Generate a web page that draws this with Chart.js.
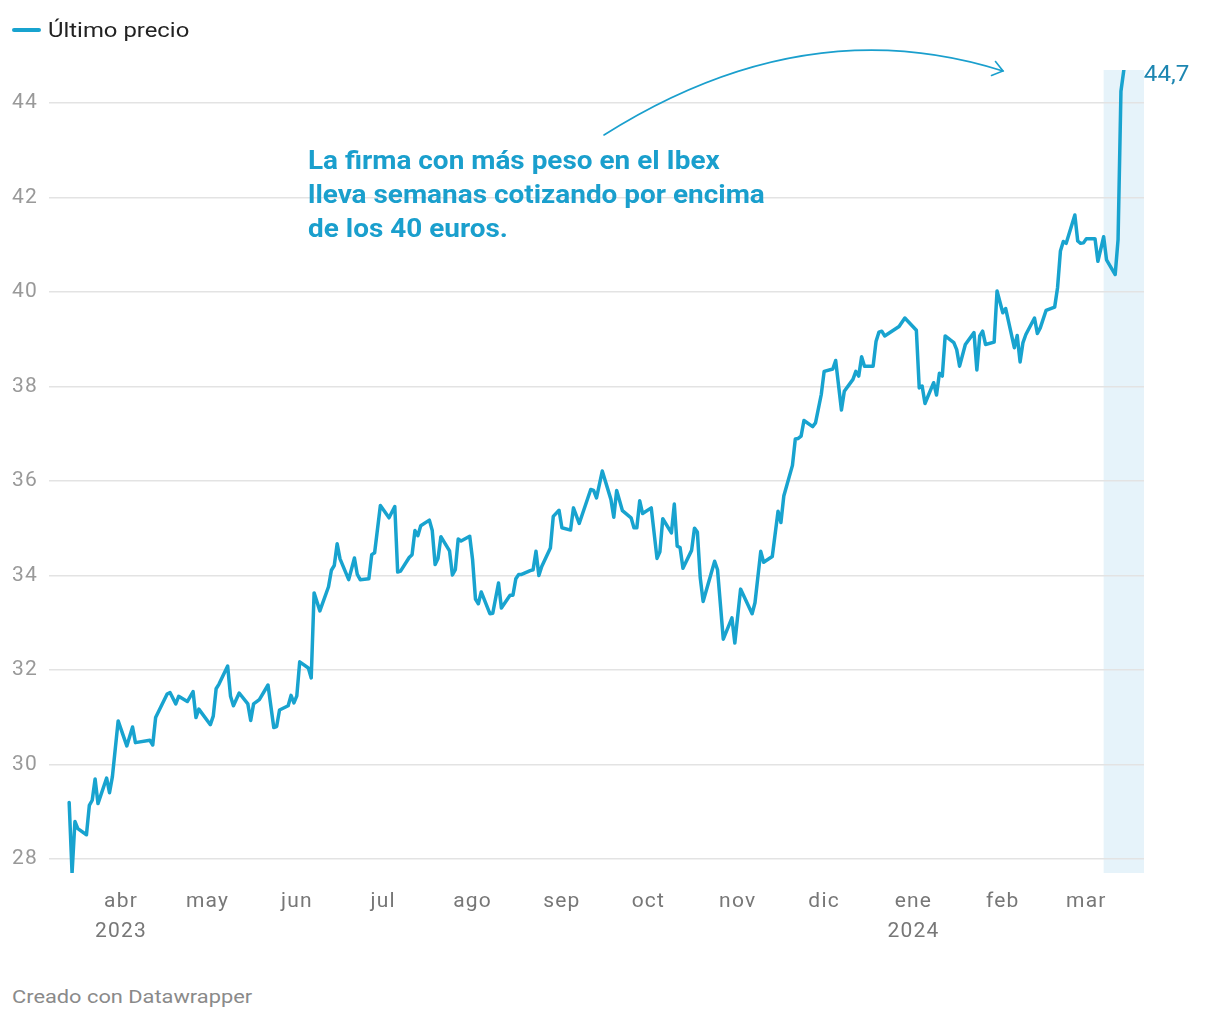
<!DOCTYPE html>
<html><head><meta charset="utf-8">
<script src="https://cdn.jsdelivr.net/npm/chart.js@4.4.1/dist/chart.umd.min.js"></script>
<style>
html,body{margin:0;padding:0;background:#fff;}
body{width:1220px;height:1020px;position:relative;overflow:hidden;font-family:Roboto,"Noto Sans",sans-serif;}
#wrap{position:absolute;left:0;top:0;width:1220px;height:970px;}
#sw{position:absolute;left:12px;top:28px;width:29px;height:4px;border-radius:2px;background:#18a3cf;}
#legend{position:absolute;left:48px;top:15px;line-height:30px;font-size:21px;color:#222;transform:scaleX(1.137);transform-origin:0 50%;white-space:nowrap;}
#note{position:absolute;left:308px;top:144px;font-weight:700;font-size:25px;line-height:34px;color:#1a9fcd;white-space:nowrap;transform:scaleX(1.117);transform-origin:0 50%;}
#foot{position:absolute;left:12px;top:985px;font-size:19px;line-height:24px;color:#8a8a8a;white-space:nowrap;transform:scaleX(1.148);transform-origin:0 50%;}
</style></head>
<body>
<div id="wrap"><canvas id="c"></canvas></div>
<div id="sw"></div>
<div id="legend">Último precio</div>
<div id="note">La firma con más peso en el Ibex<br>lleva semanas cotizando por encima<br>de los 40 euros.</div>
<div id="foot">Creado con Datawrapper</div>
<script>
const seriesName = "Último precio";
const dates = [
"2023-03-14","2023-03-15","2023-03-16","2023-03-17","2023-03-20","2023-03-21","2023-03-22","2023-03-23","2023-03-24","2023-03-27",
"2023-03-28","2023-03-29","2023-03-31","2023-04-03","2023-04-05","2023-04-06","2023-04-11","2023-04-12","2023-04-13","2023-04-17",
"2023-04-18","2023-04-20","2023-04-21","2023-04-24","2023-04-26","2023-04-27","2023-04-28","2023-05-02","2023-05-03","2023-05-04",
"2023-05-05","2023-05-08","2023-05-09","2023-05-10","2023-05-12","2023-05-15","2023-05-16","2023-05-17","2023-05-19","2023-05-22",
"2023-05-24","2023-05-25","2023-05-26","2023-05-29","2023-05-30","2023-05-31","2023-06-01","2023-06-02","2023-06-05","2023-06-06",
"2023-06-07","2023-06-09","2023-06-12","2023-06-13","2023-06-14","2023-06-15","2023-06-16","2023-06-19","2023-06-21","2023-06-22",
"2023-06-23","2023-06-26","2023-06-27","2023-06-28","2023-06-30","2023-07-03","2023-07-05","2023-07-06","2023-07-07","2023-07-10",
"2023-07-11","2023-07-12","2023-07-13","2023-07-14","2023-07-17","2023-07-18","2023-07-19","2023-07-20","2023-07-21","2023-07-24",
"2023-07-25","2023-07-26","2023-07-27","2023-07-28","2023-07-31","2023-08-01","2023-08-02","2023-08-03","2023-08-04","2023-08-07",
"2023-08-08","2023-08-10","2023-08-11","2023-08-14","2023-08-15","2023-08-16","2023-08-17","2023-08-18","2023-08-21","2023-08-22",
"2023-08-23","2023-08-24","2023-08-25","2023-08-28","2023-08-29","2023-08-31","2023-09-01","2023-09-04","2023-09-05","2023-09-07",
"2023-09-11","2023-09-12","2023-09-13","2023-09-15","2023-09-18","2023-09-19","2023-09-20","2023-09-22","2023-09-25","2023-09-26",
"2023-09-27","2023-09-28","2023-09-29","2023-10-02","2023-10-04","2023-10-05","2023-10-06","2023-10-09","2023-10-10","2023-10-11",
"2023-10-12","2023-10-13","2023-10-16","2023-10-17","2023-10-18","2023-10-19","2023-10-20","2023-10-24","2023-10-25","2023-10-27",
"2023-10-30","2023-10-31","2023-11-02","2023-11-06","2023-11-07","2023-11-09","2023-11-10","2023-11-13","2023-11-15","2023-11-16",
"2023-11-17","2023-11-20","2023-11-21","2023-11-22","2023-11-23","2023-11-24","2023-11-27","2023-11-28","2023-11-30","2023-12-01",
"2023-12-04","2023-12-05","2023-12-07","2023-12-08","2023-12-11","2023-12-12","2023-12-13","2023-12-14","2023-12-15","2023-12-18",
"2023-12-19","2023-12-20","2023-12-21","2023-12-22","2023-12-27","2023-12-29","2024-01-02","2024-01-03","2024-01-04","2024-01-05",
"2024-01-08","2024-01-09","2024-01-10","2024-01-11","2024-01-12","2024-01-15","2024-01-16","2024-01-17","2024-01-19","2024-01-22",
"2024-01-23","2024-01-24","2024-01-25","2024-01-26","2024-01-29","2024-01-30","2024-02-01","2024-02-02","2024-02-05","2024-02-06",
"2024-02-07","2024-02-08","2024-02-09","2024-02-12","2024-02-13","2024-02-14","2024-02-16","2024-02-19","2024-02-20","2024-02-21",
"2024-02-22","2024-02-23","2024-02-26","2024-02-27","2024-02-28","2024-02-29","2024-03-01","2024-03-04","2024-03-05","2024-03-07",
"2024-03-08","2024-03-11","2024-03-12","2024-03-13","2024-03-14"
];
const prices = [
29.19,27.70,28.79,28.64,28.51,29.13,29.24,29.69,29.17,29.71,
29.40,29.74,30.92,30.39,30.79,30.46,30.51,30.41,30.99,31.49,
31.52,31.28,31.44,31.33,31.54,30.99,31.17,30.84,31.02,31.60,
31.70,32.08,31.44,31.24,31.51,31.28,30.93,31.28,31.37,31.68,
30.78,30.80,31.15,31.24,31.46,31.30,31.45,32.17,32.04,31.83,
33.63,33.25,33.76,34.11,34.21,34.67,34.35,33.91,34.37,34.02,
33.91,33.93,34.44,34.48,35.48,35.22,35.46,34.07,34.09,34.38,
34.44,34.95,34.84,35.05,35.17,34.95,34.23,34.36,34.82,34.52,
34.01,34.12,34.77,34.73,34.83,34.33,33.50,33.40,33.65,33.19,
33.20,33.84,33.31,33.58,33.58,33.93,34.02,34.02,34.10,34.12,
34.51,34.00,34.19,34.58,35.25,35.38,35.01,34.96,35.43,35.10,
35.82,35.80,35.64,36.21,35.61,35.23,35.80,35.37,35.22,35.01,
35.01,35.58,35.31,35.43,34.36,34.50,35.20,34.90,35.51,34.62,
34.59,34.15,34.53,35.00,34.92,33.95,33.45,34.30,34.12,32.65,
33.10,32.57,33.71,33.19,33.42,34.51,34.28,34.40,35.36,35.12,
35.68,36.33,36.89,36.90,36.95,37.28,37.15,37.23,37.83,38.32,
38.37,38.55,37.50,37.90,38.15,38.32,38.22,38.63,38.43,38.43,
38.95,39.15,39.17,39.07,39.27,39.45,39.19,37.97,38.01,37.64,
38.08,37.82,38.28,38.22,39.07,38.93,38.78,38.43,38.89,39.14,
38.35,39.07,39.17,38.89,38.94,40.02,39.56,39.65,38.82,39.08,
38.52,38.93,39.10,39.45,39.12,39.24,39.61,39.68,40.09,40.87,
41.07,41.03,41.63,41.08,41.03,41.04,41.13,41.13,40.65,41.17,
40.68,40.37,41.11,44.25,44.70
];
const monthTicks = ["2023-04-01","2023-05-01","2023-06-01","2023-07-01","2023-08-01","2023-09-01","2023-10-01","2023-11-01","2023-12-01","2024-01-01","2024-02-01","2024-03-01"];
const monthLabels = ["abr","may","jun","jul","ago","sep","oct","nov","dic","ene","feb","mar"];
const yearLabels = ["2023","","","","","","","","","2024","",""];
const yTicks = [28,30,32,34,36,38,40,42,44];
const axisRange = ["2023-03-07","2024-03-21"];
const highlightRange = ["2024-03-07","2024-03-21"];
const lastLabel = "44,7";

const LINE = "#18a3cf";
function dayNum(s){const p=s.split("-").map(Number);return Date.UTC(p[0],p[1]-1,p[2])/86400000;}
const points = dates.map((d,i)=>({x:dayNum(d), y:prices[i]}));

const highlightPlugin = {
  id:"hl",
  beforeDraw(chart){
    const {ctx, chartArea:a, scales:{x}} = chart;
    ctx.letterSpacing = "1.2px";
    const x0 = x.getPixelForValue(dayNum(highlightRange[0]));
    const x1 = x.getPixelForValue(dayNum(highlightRange[1]));
    ctx.save(); ctx.fillStyle="#e6f3fa"; ctx.fillRect(x0,a.top,x1-x0,a.bottom-a.top); ctx.restore();
  },
  afterDraw(chart){
    const {ctx, scales:{x,y}} = chart;
    const lp = points[points.length-1];
    const px = x.getPixelForValue(lp.x), py = y.getPixelForValue(lp.y);
    ctx.save();
    ctx.letterSpacing = "0px";
    ctx.font = "22px Roboto";
    ctx.fillStyle = "#1d86b1";
    ctx.textBaseline = "middle";
    ctx.textAlign = "left";
    ctx.translate(px+20, py+5); ctx.scale(1.1,1);
    ctx.fillText(lastLabel, 0, 0);
    ctx.restore();
    ctx.save();
    // annotation arrow
    ctx.strokeStyle = "#1a9fcd"; ctx.lineWidth = 1.6; ctx.lineCap="round";
    ctx.beginPath(); ctx.moveTo(604,135); ctx.quadraticCurveTo(805,8,1003,71); ctx.stroke();
    ctx.beginPath(); ctx.moveTo(995.5,61.5); ctx.lineTo(1003,71); ctx.lineTo(991.5,75.5); ctx.stroke();
    ctx.restore();
  }
};

new Chart(document.getElementById("c"), {
  type:"line",
  data:{datasets:[{label:seriesName,data:points,borderColor:LINE,borderWidth:3.5,pointRadius:0,tension:0,borderJoinStyle:"round",borderCapStyle:"round",fill:false}]},
  options:{
    responsive:true, maintainAspectRatio:false, animation:false,
    layout:{padding:{left:12,right:76,top:70,bottom:0}},
    plugins:{legend:{display:false},tooltip:{enabled:false}},
    scales:{
      x:{type:"linear",min:dayNum(axisRange[0]),max:dayNum(axisRange[1]),
        afterBuildTicks(s){s.ticks = monthTicks.map(d=>({value:dayNum(d)}));},
        afterFit(s){s.height = 97;},
        grid:{display:false,drawTicks:false}, border:{display:false},
        ticks:{autoSkip:false,maxRotation:0,padding:14,color:"#777",font:{family:"Roboto",size:21,lineHeight:1.43},
          callback(v,i){return yearLabels[i]?[monthLabels[i],yearLabels[i]]:monthLabels[i];}}
      },
      y:{type:"linear",min:Math.min(...prices),max:Math.max(...prices),
        afterBuildTicks(s){s.ticks = yTicks.map(v=>({value:v}));},
        afterFit(s){s.width = 37;},
        grid:{color:"#e3e3e3",lineWidth:1.5,drawTicks:false}, border:{display:false},
        ticks:{crossAlign:"far",color:"#999",font:{family:"Roboto",size:21},callback(v){return String(v);}}
      }
    }
  },
  plugins:[highlightPlugin]
});
</script>
</body></html>
